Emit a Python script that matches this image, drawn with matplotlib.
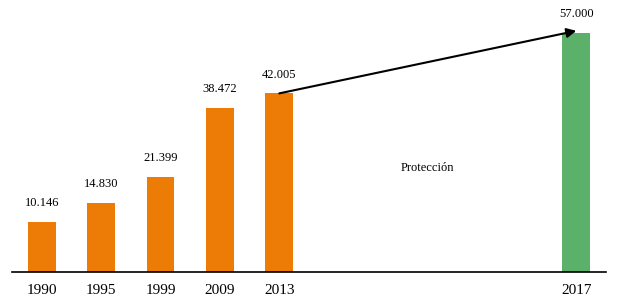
import matplotlib.pyplot as plt

# data
years = ["1990", "1995", "1999", "2009", "2013", "2017"]
positions = [0, 1, 2, 3, 4, 9]
values = [10146, 14830, 21399, 38472, 42005, 57000]
labels = ["10.146", "14.830", "21.399", "38.472", "42.005", "57.000"]
colors = ["#EC7C05"] * 5 + ["#5BB06A"]

plt.rcParams["font.family"] = ["Liberation Serif", "DejaVu Serif"]

# the original axis does not start at zero
y0 = -2250

fig = plt.figure(figsize=(6.18, 3.05), dpi=100)
ax = fig.add_axes([12 / 618, 33 / 305, 594 / 618, 267 / 305])

ax.bar(positions, [v - y0 for v in values], width=0.47, color=colors, bottom=y0)

for p, v, lab in zip(positions, values, labels):
    ax.annotate(lab, (p, v), xytext=(0, 13.5), textcoords="offset points",
                ha="center", va="center", fontsize=9)

# projection arrow 2013 -> 2017
ax.annotate("", xy=(9, 57500), xytext=(4, 42005),
            arrowprops=dict(arrowstyle="-|>", color="black", lw=1.5,
                            mutation_scale=14, shrinkA=0, shrinkB=0))
ax.text(6.5, 23500, "Protección", ha="center", va="center", fontsize=9)

ax.set_xlim(-0.5, 9.5)
ax.set_ylim(y0, 63900)
ax.set_xticks(positions)
ax.set_xticklabels(years, fontsize=11)
ax.tick_params(axis="x", length=0, pad=9)
ax.set_yticks([])
for s in ["top", "right", "left"]:
    ax.spines[s].set_visible(False)
ax.spines["bottom"].set_linewidth(1.2)

fig.savefig("out.png", dpi=100)
